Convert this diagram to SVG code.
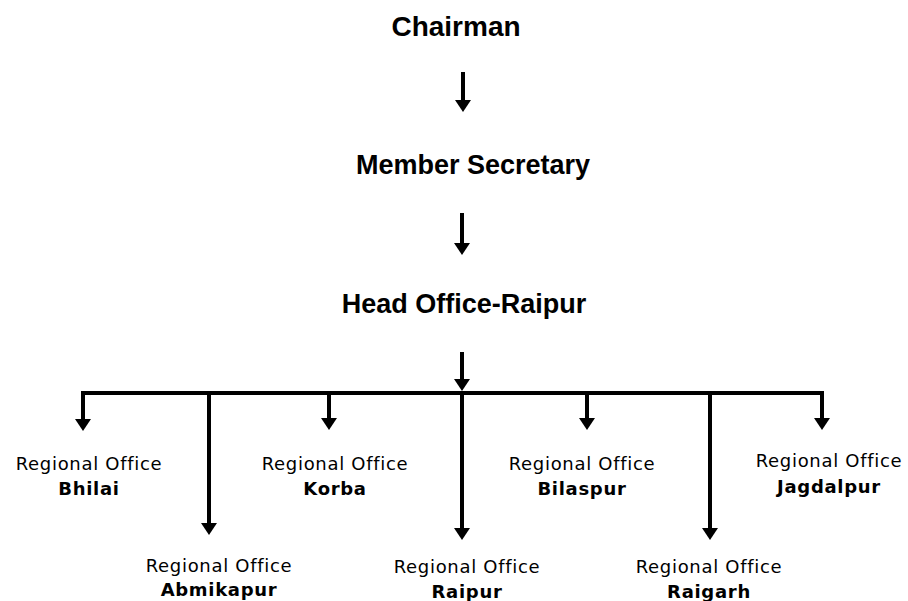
<svg xmlns="http://www.w3.org/2000/svg" width="908" height="601" viewBox="0 0 908 601">
<style>
.t{font-family:"Liberation Sans",Arial,sans-serif;font-weight:bold;fill:#000;text-anchor:middle}
.l{font-family:"DejaVu Sans","Liberation Sans",sans-serif;font-size:18px;letter-spacing:0.7px;fill:#000;text-anchor:middle}
.b{font-weight:bold}
.c{stroke:#000;stroke-width:4;fill:none}
.a{marker-end:url(#ah)}
</style>
<defs>
<marker id="ah" markerUnits="userSpaceOnUse" markerWidth="14" markerHeight="18" viewBox="0 -9 13 18" refX="6" refY="0" orient="auto">
<path d="M0,-8 L12,0 L0,8 z" fill="#000"/>
</marker>
</defs>
<rect width="908" height="601" fill="#fff"/>
<g id="chairman"><text class="t" x="456" y="36" font-size="28">Chairman</text></g>
<g id="member-secretary"><text class="t" x="473" y="174" font-size="27">Member Secretary</text></g>
<g id="head-office"><text class="t" x="464" y="313" font-size="27">Head Office-Raipur</text></g>
<g id="ro-bhilai"><text class="l" x="89" y="470">Regional Office</text><text class="l b" x="89" y="495">Bhilai</text></g>
<g id="ro-korba"><text class="l" x="335" y="470">Regional Office</text><text class="l b" x="335" y="495">Korba</text></g>
<g id="ro-bilaspur"><text class="l" x="582" y="470">Regional Office</text><text class="l b" x="582" y="495">Bilaspur</text></g>
<g id="ro-jagdalpur"><text class="l" x="829" y="467">Regional Office</text><text class="l b" x="829" y="493">Jagdalpur</text></g>
<g id="ro-abmikapur"><text class="l" x="219" y="572">Regional Office</text><text class="l b" x="219" y="596">Abmikapur</text></g>
<g id="ro-raipur"><text class="l" x="467" y="573">Regional Office</text><text class="l b" x="467" y="598">Raipur</text></g>
<g id="ro-raigarh"><text class="l" x="709" y="573">Regional Office</text><text class="l b" x="709" y="598">Raigarh</text></g>
<g id="connectors">
<line class="c a" x1="463" y1="72" x2="463" y2="106"/>
<line class="c a" x1="462" y1="213" x2="462" y2="249"/>
<line class="c a" x1="462" y1="352" x2="462" y2="385"/>
<line class="c" x1="81" y1="393" x2="824" y2="393"/>
<line class="c a" x1="83" y1="391" x2="83" y2="425"/>
<line class="c a" x1="209" y1="391" x2="209" y2="529"/>
<line class="c a" x1="329" y1="391" x2="329" y2="424"/>
<line class="c a" x1="462" y1="391" x2="462" y2="534"/>
<line class="c a" x1="587" y1="391" x2="587" y2="424"/>
<line class="c a" x1="710" y1="391" x2="710" y2="534"/>
<line class="c a" x1="822" y1="391" x2="822" y2="424"/>
</g>
</svg>
